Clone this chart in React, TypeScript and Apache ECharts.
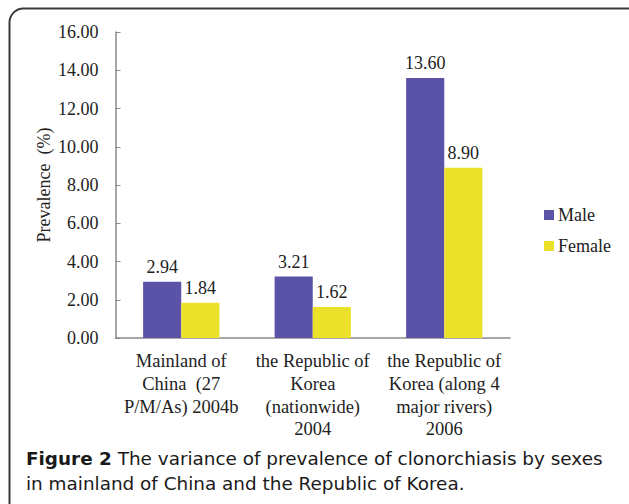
import React, { useEffect, useRef } from "react";
import * as echarts from "echarts";

const categories = [
  "Mainland of\nChina  (27\nP/M/As) 2004b",
  "the Republic of\nKorea\n(nationwide)\n2004",
  "the Republic of\nKorea (along 4\nmajor rivers)\n2006",
];
const maleValues = [2.94, 3.21, 13.6];
const femaleValues = [1.84, 1.62, 8.9];
const seriesNames = ["Male", "Female"];
const yTicks = { min: 0, max: 16, interval: 2 };
const yAxisTitle = "Prevalence  (%)";
const captionBold = "Figure 2";
const captionLine1 = " The variance of prevalence of clonorchiasis by sexes";
const captionLine2 = "in mainland of China and the Republic of Korea.";

const SERIF = '"Liberation Serif", "Times New Roman", serif';
const SANS = '"DejaVu Sans", "Open Sans", sans-serif';

export default function App() {
  const ref = useRef<HTMLDivElement>(null);
  useEffect(() => {
    if (!ref.current) return;
    const chart = echarts.init(ref.current, null, { renderer: "svg" });
    const labelStyle = {
      show: true,
      position: "top",
      distance: 6,
      fontFamily: SERIF,
      fontSize: 18,
      color: "#222222",
      formatter: (p: any) => Number(p.value).toFixed(2),
    };
    chart.setOption({
      animation: false,
      backgroundColor: "#ffffff",
      grid: { left: 115.5, right: 119, top: 32, bottom: 166, containLabel: false },
      legend: {
        orient: "vertical",
        left: 539,
        top: 200,
        itemWidth: 10,
        itemHeight: 10,
        itemGap: 11,
        icon: "rect",
        textStyle: { fontFamily: SERIF, fontSize: 18, color: "#222222", lineHeight: 20, padding: [0, 0, 0, -1] },
        data: seriesNames,
      },
      xAxis: {
        type: "category",
        data: categories,
        axisLine: { lineStyle: { color: "#8a8a8a", width: 1.5 } },
        axisTick: { show: false },
        axisLabel: {
          interval: 0,
          margin: 12,
          fontFamily: SERIF,
          fontSize: 18.5,
          lineHeight: 22.7,
          color: "#222222",
          align: "center",
        },
      },
      yAxis: {
        type: "value",
        min: yTicks.min,
        max: yTicks.max,
        interval: yTicks.interval,
        name: yAxisTitle,
        nameLocation: "middle",
        nameGap: 63,
        nameMoveOverlap: false,
        nameTextStyle: { fontFamily: SERIF, fontSize: 18, color: "#222222" },
        axisLine: { show: true, lineStyle: { color: "#8a8a8a", width: 1.5 } },
        axisTick: { show: true, inside: true, length: 5, lineStyle: { color: "#8a8a8a" } },
        splitLine: { show: false },
        axisLabel: {
          margin: 17,
          fontFamily: SERIF,
          fontSize: 18,
          color: "#222222",
          formatter: (v: number) => v.toFixed(2),
        },
      },
      series: [
        {
          name: seriesNames[0],
          type: "bar",
          data: maleValues,
          barWidth: "29%",
          barGap: "0%",
          itemStyle: { color: "#5a53a8" },
          label: labelStyle,
        },
        {
          name: seriesNames[1],
          type: "bar",
          data: femaleValues,
          barWidth: "29%",
          barGap: "0%",
          itemStyle: { color: "#ebe12b" },
          label: labelStyle,
        },
      ],
      graphic: [
        {
          type: "rect",
          silent: true,
          shape: { x: 9.5, y: 8.5, width: 640, height: 520, r: 14 },
          style: { fill: "none", stroke: "#3a3a3a", lineWidth: 2 },
          z: 100,
        },
        {
          type: "text",
          left: 26,
          top: 450,
          style: {
            text:
              "{b|" + captionBold + "}{n|" + captionLine1 + "}\n{n|" + captionLine2 + "}",
            rich: {
              b: { fontFamily: SANS, fontSize: 18.4, fontWeight: "bold", fill: "#1a1a1a", lineHeight: 24.4 },
              n: { fontFamily: SANS, fontSize: 18.4, fill: "#1a1a1a", lineHeight: 24.4 },
            },
          },
        },
      ],
    });
    return () => chart.dispose();
  }, []);
  return (
    <div
      ref={ref}
      style={{ position: "fixed", left: 0, top: 0, width: 629, height: 504, background: "#fff" }}
    />
  );
}
